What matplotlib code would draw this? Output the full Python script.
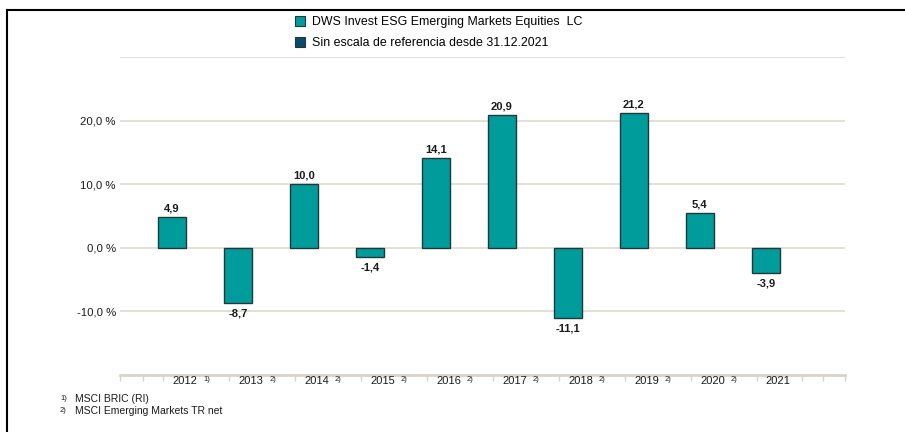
import matplotlib.pyplot as plt
from matplotlib.patches import Patch
from matplotlib.lines import Line2D

plt.rcParams['font.family'] = ['Liberation Sans', 'DejaVu Sans']

years = ['2012', '2013', '2014', '2015', '2016', '2017', '2018', '2019', '2020', '2021']
notes = ['1)', '2)', '2)', '2)', '2)', '2)', '2)', '2)', '2)', '']
returns = [4.9, -8.7, 10.0, -1.4, 14.1, 20.9, -11.1, 21.2, 5.4, -3.9]
legend_labels = ['DWS Invest ESG Emerging Markets Equities  LC',
                 'Sin escala de referencia desde 31.12.2021']
footnotes = [('1)', 'MSCI BRIC (RI)'), ('2)', 'MSCI Emerging Markets TR net')]

teal = '#009c9c'
navy = '#0b4a68'
grid_c = '#dedad2'
text_c = '#1a1a1a'

fig = plt.figure(figsize=(9.05, 4.32), dpi=100)
ax = fig.add_axes([120 / 905, 1 - 375 / 432, 725 / 905, 318 / 432])

x = list(range(len(years)))
ax.bar(x, returns, width=0.42, color=teal, edgecolor='#223838', linewidth=1.0, zorder=3)

for xi, v in zip(x, returns):
    lbl = f'{v:.1f}'.replace('.', ',')
    if v >= 0:
        ax.annotate(lbl, (xi, v), xytext=(0, 2.5), textcoords='offset points',
                    ha='center', va='bottom', fontsize=8, fontweight='bold', color=text_c)
    else:
        ax.annotate(lbl, (xi, v), xytext=(0, -4), textcoords='offset points',
                    ha='center', va='top', fontsize=8, fontweight='bold', color=text_c)

ax.set_xlim(-0.79, 10.2)
ax.set_ylim(-20, 30)
ax.set_yticks([-10, 0, 10, 20, 30])
ax.set_yticklabels(['-10,0 %', '0,0 %', '10,0 %', '20,0 %', ''], fontsize=8.2, color=text_c)
ax.tick_params(axis='y', length=0, pad=3)
ax.yaxis.grid(True, color=grid_c, linewidth=1.2, zorder=0)
ax.set_axisbelow(True)

# category ticks on the bottom axis
ticks = [-0.79, -0.44] + [i - 0.14 for i in x] + [9.545, 9.86, 10.2]
ax.set_xticks(ticks)
ax.set_xticklabels([])
ax.tick_params(axis='x', length=4, width=1, color='#d8d4cc', direction='out')

for s in ['top', 'right', 'left']:
    ax.spines[s].set_visible(False)
ax.spines['bottom'].set_color('#d8d4cc')
ax.spines['bottom'].set_linewidth(2)

for xi, yr, nt in zip(x, years, notes):
    ax.annotate(yr, (xi + 0.19, 0), xycoords=('data', 'axes fraction'),
                xytext=(0, -4.3), textcoords='offset points',
                ha='center', va='center', fontsize=8, color=text_c)
    if nt:
        ax.annotate(nt, (xi + 0.47, 0), xycoords=('data', 'axes fraction'),
                    xytext=(0, -3.3), textcoords='offset points',
                    ha='left', va='center', fontsize=5.5, color=text_c)

handles = [Patch(facecolor=teal, edgecolor='#223838', linewidth=0.8),
           Patch(facecolor=navy, edgecolor='#223838', linewidth=0.8)]
fig.legend(handles, legend_labels, loc='upper left', bbox_to_anchor=(290 / 905, 1 - 11 / 432),
           frameon=False, fontsize=8.9, handlelength=0.85, handleheight=0.85,
           handletextpad=0.5, labelspacing=0.7, borderaxespad=0)

for k, (n, t) in enumerate(footnotes):
    yy = 1 - (399 + 12 * k) / 432
    fig.text(60 / 905, yy, n, fontsize=5.5, va='center', color=text_c)
    fig.text(75 / 905, yy, t, fontsize=7.5, va='center', color=text_c)

# outer frame (top and left)
fig.add_artist(Line2D([7 / 905, 1], [1 - 10 / 432, 1 - 10 / 432], color='black', linewidth=1.5))
fig.add_artist(Line2D([7 / 905, 7 / 905], [0, 1 - 10 / 432], color='black', linewidth=1.5))

fig.savefig('out.png', dpi=100)
